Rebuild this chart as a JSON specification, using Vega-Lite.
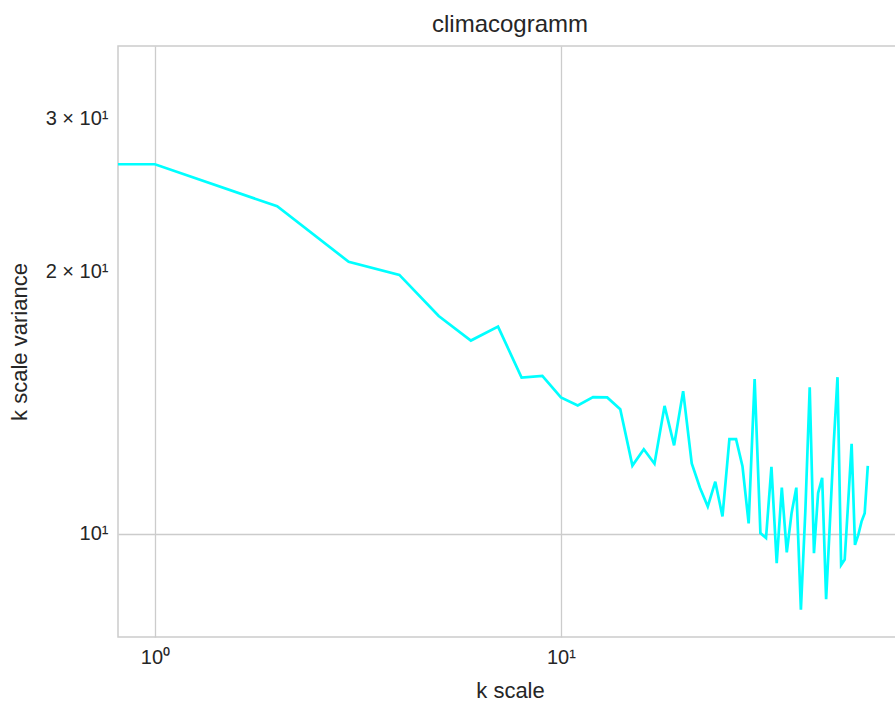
{
  "$schema": "https://vega.github.io/schema/vega-lite/v6.json",
  "width": 784,
  "height": 591,
  "autosize": {"type": "none"},
  "padding": {"left": 118, "top": 46, "right": 0, "bottom": 72},
  "background": "white",
  "title": {"text": "climacogramm", "fontSize": 24, "font": "Liberation Sans", "fontWeight": "normal", "color": "#262626", "offset": 9},
  "config": {
    "view": {"stroke": "#cccccc", "strokeWidth": 1.5},
    "axis": {
      "domain": false,
      "ticks": false,
      "grid": true,
      "gridColor": "#cccccc",
      "gridWidth": 1.3,
      "labelFont": "Liberation Sans",
      "labelFontSize": 20,
      "labelColor": "#262626",
      "labelPadding": 10,
      "titleFont": "Liberation Sans",
      "titleFontSize": 22,
      "titleFontWeight": "normal",
      "titleColor": "#262626"
    }
  },
  "data": {
    "values": [
      {"k": 0.01, "variance": 26.6},
      {"k": 1, "variance": 26.6},
      {"k": 2, "variance": 23.8},
      {"k": 3, "variance": 20.55},
      {"k": 4, "variance": 19.85},
      {"k": 5, "variance": 17.8},
      {"k": 6, "variance": 16.68},
      {"k": 7, "variance": 17.31},
      {"k": 8, "variance": 15.12},
      {"k": 9, "variance": 15.19},
      {"k": 10, "variance": 14.35},
      {"k": 11, "variance": 14.05},
      {"k": 12, "variance": 14.36},
      {"k": 13, "variance": 14.35},
      {"k": 14, "variance": 13.91},
      {"k": 15, "variance": 11.98},
      {"k": 16, "variance": 12.51},
      {"k": 17, "variance": 12.04},
      {"k": 18, "variance": 14.03},
      {"k": 19, "variance": 12.64},
      {"k": 20, "variance": 14.59},
      {"k": 21, "variance": 12.05},
      {"k": 22, "variance": 11.3},
      {"k": 23, "variance": 10.75},
      {"k": 24, "variance": 11.48},
      {"k": 25, "variance": 10.47},
      {"k": 26, "variance": 12.85},
      {"k": 27, "variance": 12.85},
      {"k": 28, "variance": 11.96},
      {"k": 29, "variance": 10.28},
      {"k": 30, "variance": 15.06},
      {"k": 31, "variance": 10.02},
      {"k": 32, "variance": 9.89},
      {"k": 33, "variance": 11.94},
      {"k": 34, "variance": 9.25},
      {"k": 35, "variance": 11.3},
      {"k": 36, "variance": 9.52},
      {"k": 37, "variance": 10.57},
      {"k": 38, "variance": 11.3},
      {"k": 39, "variance": 8.18},
      {"k": 40, "variance": 10.63},
      {"k": 41, "variance": 14.74},
      {"k": 42, "variance": 9.5},
      {"k": 43, "variance": 11.14},
      {"k": 44, "variance": 11.6},
      {"k": 45, "variance": 8.41},
      {"k": 46, "variance": 10.35},
      {"k": 47, "variance": 12.73},
      {"k": 48, "variance": 15.14},
      {"k": 49, "variance": 9.21},
      {"k": 50, "variance": 9.34},
      {"k": 51, "variance": 10.88},
      {"k": 52, "variance": 12.69},
      {"k": 53, "variance": 9.71},
      {"k": 54, "variance": 9.97},
      {"k": 55, "variance": 10.33},
      {"k": 56, "variance": 10.56},
      {"k": 57, "variance": 11.97}
    ]
  },
  "mark": {"type": "line", "color": "#00ffff", "strokeWidth": 2.7, "clip": true},
  "encoding": {
    "x": {
      "field": "k",
      "type": "quantitative",
      "scale": {"type": "log", "domain": [0.811, 69.2], "nice": false},
      "axis": {
        "values": [1, 10],
        "labelExpr": "datum.value == 1 ? '10⁰' : '10¹'",
        "title": "k scale",
        "titlePadding": 13
      }
    },
    "y": {
      "field": "variance",
      "type": "quantitative",
      "scale": {"type": "log", "domain": [7.61, 36.38], "nice": false},
      "axis": {
        "values": [10, 20, 30],
        "labelExpr": "datum.value == 10 ? '10¹' : (datum.value == 20 ? '2 × 10¹' : '3 × 10¹')",
        "gridOpacity": {"condition": {"test": "datum.value == 10", "value": 1}, "value": 0},
        "title": "k scale variance",
        "titlePadding": 14
      }
    }
  }
}
